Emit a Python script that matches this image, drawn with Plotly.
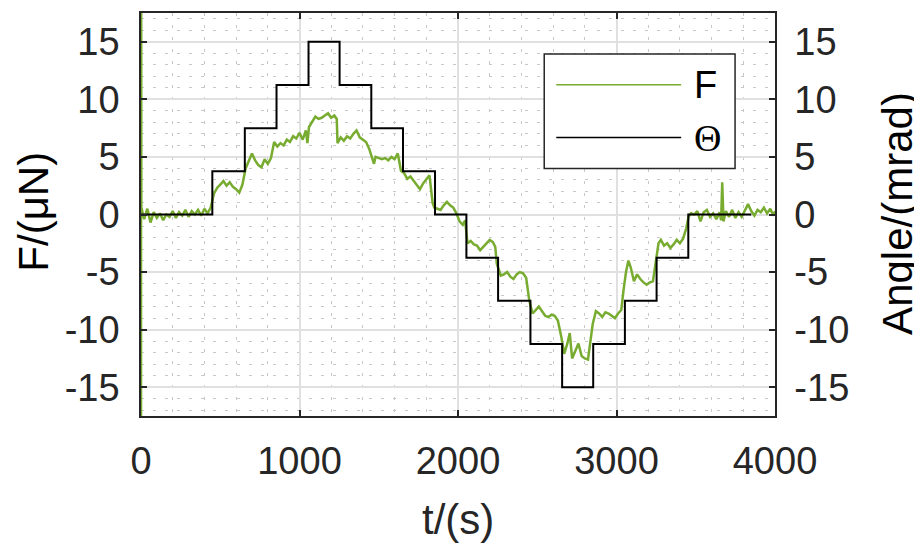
import plotly.graph_objects as go

# Theta command (step profile), mrad
theta_t = [0, 450, 450, 655, 655, 855, 855, 1057, 1057, 1253, 1253, 1453, 1453, 1653, 1653,
           1855, 1855, 2053, 2053, 2253, 2253, 2457, 2457, 2657, 2657, 2853, 2853, 3053, 3053,
           3253, 3253, 3453, 3453, 3850]
theta_val = [0, 0, 3.75, 3.75, 7.5, 7.5, 11.25, 11.25, 15, 15, 11.25, 11.25, 7.5, 7.5, 3.75,
             3.75, 0, 0, -3.75, -3.75, -7.5, -7.5, -11.25, -11.25, -15, -15, -11.25, -11.25, -7.5,
             -7.5, -3.75, -3.75, 0, 0]

f_t = [0, 0, 2, 20, 40, 60, 80, 100, 120, 140, 160, 180, 200, 220, 240, 260, 280, 300, 320, 340,
       360, 380, 400, 420, 440, 460, 480, 500, 520, 540, 560, 580, 600, 620, 640, 660,
       680, 700, 720, 740, 760, 780, 800, 820, 840, 860,
       880, 900, 920, 940, 960, 980, 1000, 1020, 1040, 1050, 1060,
       1080, 1100, 1120, 1140, 1160, 1180, 1200, 1220, 1235, 1240, 1260,
       1280, 1300, 1320, 1340, 1360, 1380, 1400, 1420, 1440, 1460,
       1470, 1480, 1500, 1520, 1540, 1560, 1580, 1600, 1620, 1640,
       1660, 1680, 1700, 1720, 1740, 1760, 1780, 1800, 1820, 1840, 1850,
       1870, 1890, 1910, 1930, 1950, 1970, 1990, 2010, 2030, 2045,
       2060, 2080, 2100, 2120, 2140, 2160, 2180, 2200, 2220, 2235, 2245,
       2270, 2290, 2310, 2330, 2350, 2370, 2390, 2410, 2430, 2450,
       2470, 2490, 2510, 2530, 2550, 2570, 2590, 2610, 2630, 2650,
       2670, 2690, 2705, 2720, 2740, 2760, 2780, 2800, 2820, 2840, 2850,
       2870, 2890, 2910, 2930, 2950, 2970, 2990, 3010, 3030, 3045,
       3060, 3075, 3090, 3110, 3130, 3150, 3170, 3190, 3210, 3230, 3245,
       3265, 3280, 3300, 3320, 3340, 3360, 3380, 3400, 3420, 3440, 3455,
       3470, 3490, 3510, 3530, 3550, 3570, 3590, 3610, 3630, 3650, 3660, 3667, 3675,
       3690, 3710, 3730, 3750, 3770, 3790, 3810, 3830, 3850, 3870, 3890, 3910, 3930,
       3950, 3970, 3990, 4000]
f_val = [-40, 40, 0.6, -0.4, 0.5, -0.7, 0.2, -0.3, 0.1, -0.5, 0.0, -0.2, 0.3, -0.3, 0.2, -0.1,
         0.4, -0.2, 0.3, 0.0, 0.4, -0.1, 0.5, 0.1, 0.6, 1.8, 2.3, 2.6, 2.9, 2.5, 2.8, 2.4, 2.2,
         1.9, 2.6, 4.0,
         4.6, 5.3, 4.7, 4.3, 4.1, 4.8, 4.4, 4.9, 6.3, 5.9,
         6.2, 6.0, 6.5, 6.3, 6.8, 6.6, 7.1, 6.5, 7.3, 6.2, 7.6,
         8.0, 8.5, 8.3, 8.4, 8.6, 8.8, 8.4, 8.6, 8.3, 6.2, 6.7,
         6.4, 6.8, 6.6, 7.0, 7.3, 6.7, 6.5, 6.3, 5.7, 4.8,
         4.4, 5.0, 4.9, 4.8, 4.9, 4.7, 5.0, 4.8, 5.3, 3.8,
         3.6, 3.1, 3.3, 2.9, 2.6, 2.2, 2.7, 3.1, 3.4, 1.0, 0.6,
         0.5, 0.4, 0.8, 1.1, 0.8, 0.6, 0.1, -0.6, -0.9, -0.5,
         -2.5, -2.3, -2.6, -2.7, -3.1, -2.8, -2.5, -2.2, -2.4, -2.8, -4.3,
         -5.3, -5.2, -5.0, -5.4, -5.6, -5.2, -5.0, -5.1, -5.5, -7.5,
         -8.6, -8.3, -8.0, -8.4, -8.8, -8.9, -8.7, -8.8, -9.2, -10.5,
         -12.1, -11.2, -10.3, -12.5, -11.8, -11.2, -12.3, -12.5, -12.6, -10.6, -9.5,
         -8.4, -8.6, -8.9, -8.5, -8.6, -8.8, -9.0, -8.6, -8.3, -6.5,
         -5.0, -4.0, -4.6, -5.8, -5.2, -5.6, -5.9, -6.1, -5.9, -5.8, -4.5,
         -2.5, -2.2, -2.7, -2.5, -2.9, -2.6, -2.2, -2.5, -2.1, -1.2, -0.2,
         0.1, 0.0, 0.3, -0.6, 0.2, 0.4, -0.2, 0.1, -0.4, 0.2, -0.5, 2.8, -0.6,
         0.3, -0.2, 0.4, -0.3, 0.2, -0.2, 0.4, 0.9, 0.3, -0.1, 0.4, 0.2, 0.6,
         0.1, 0.5, -0.1, 0.3]

y_ticks = [-15, -10, -5, 0, 5, 10, 15]
y_labels = ["-15", "-10", "-5", "0", "5", "10", "15"]
x_ticks = [0, 1000, 2000, 3000, 4000]

green = "#77AC30"
axcol = "#262626"
font = "Liberation Sans"
fs = 38
title_fs = 42

fig = go.Figure()
fig.add_trace(go.Scatter(x=f_t, y=f_val, mode="lines", name="F",
                         line=dict(color=green, width=2.5), showlegend=False))
fig.add_trace(go.Scatter(x=theta_t, y=theta_val, mode="lines", name="Θ", yaxis="y2",
                         line=dict(color="black", width=2), showlegend=False))

grid = dict(gridcolor="#e0e0e0", gridwidth=2,
            showline=True, linecolor=axcol, linewidth=1.5,
            ticks="inside", ticklen=6, tickwidth=1.5, tickcolor=axcol,
            tickfont=dict(family=font, size=fs, color=axcol), zeroline=False)
minor_y = dict(dtick=1, showgrid=True, gridcolor="#c8c8c8", griddash="3px,9px", gridwidth=1)
minor_x = dict(dtick=200, showgrid=True, gridcolor="#c8c8c8", griddash="3px,9px", gridwidth=1)

# page body has an 8px default margin, so the figure is shrunk by that much
fig.update_layout(
    width=914, height=537,
    margin=dict(l=133, r=147, t=3, b=129),
    paper_bgcolor="white", plot_bgcolor="white",
    font=dict(family=font, size=fs, color=axcol),
    xaxis=dict(range=[0, 4000], tickvals=x_ticks, mirror="ticks", minor=minor_x,
               showgrid=True, ticklabelstandoff=11, **grid),
    yaxis=dict(range=[-17.5, 17.5], tickvals=y_ticks, ticktext=y_labels, minor=minor_y,
               showgrid=True, ticklabelstandoff=12, **grid),
    yaxis2=dict(range=[-17.5, 17.5], tickvals=y_ticks, ticktext=y_labels, overlaying="y",
                side="right", showgrid=False, ticklabelstandoff=10, **grid),
)

# axis titles placed by hand
fig.add_annotation(xref="paper", yref="paper", x=0.5, y=-0.258, text="t/(s)", showarrow=False,
                   xanchor="center", yanchor="middle",
                   font=dict(family=font, size=title_fs, color=axcol))
fig.add_annotation(xref="paper", yref="paper", x=-0.171, y=0.506, text="F/(μN)", showarrow=False,
                   textangle=-90, xanchor="center", yanchor="middle",
                   font=dict(family=font, size=title_fs, color="black"))
fig.add_annotation(xref="paper", yref="paper", x=1.194, y=0.504, text="Angle/(mrad)",
                   showarrow=False, textangle=-90, xanchor="center", yanchor="middle",
                   font=dict(family=font, size=title_fs, color="black"))

# hand-drawn legend box like the original
lx0, lx1, ly0, ly1 = 0.636, 0.937, 0.614, 0.898
fig.add_shape(type="rect", xref="paper", yref="paper", x0=lx0, x1=lx1, y0=ly0, y1=ly1,
              line=dict(color=axcol, width=1.5), fillcolor="white", layer="above")
for yy, col, txt, fam in [(0.822, green, "F", font), (0.691, "black", "Θ", "Liberation Serif")]:
    fig.add_shape(type="line", xref="paper", yref="paper", x0=0.655, x1=0.852, y0=yy, y1=yy,
                  line=dict(color=col, width=1.5), layer="above")
    fig.add_annotation(xref="paper", yref="paper", x=0.869, y=yy, text=txt, showarrow=False,
                       xanchor="left", yanchor="middle",
                       font=dict(family=fam, size=fs, color="black"))

fig.write_html("out.html")
